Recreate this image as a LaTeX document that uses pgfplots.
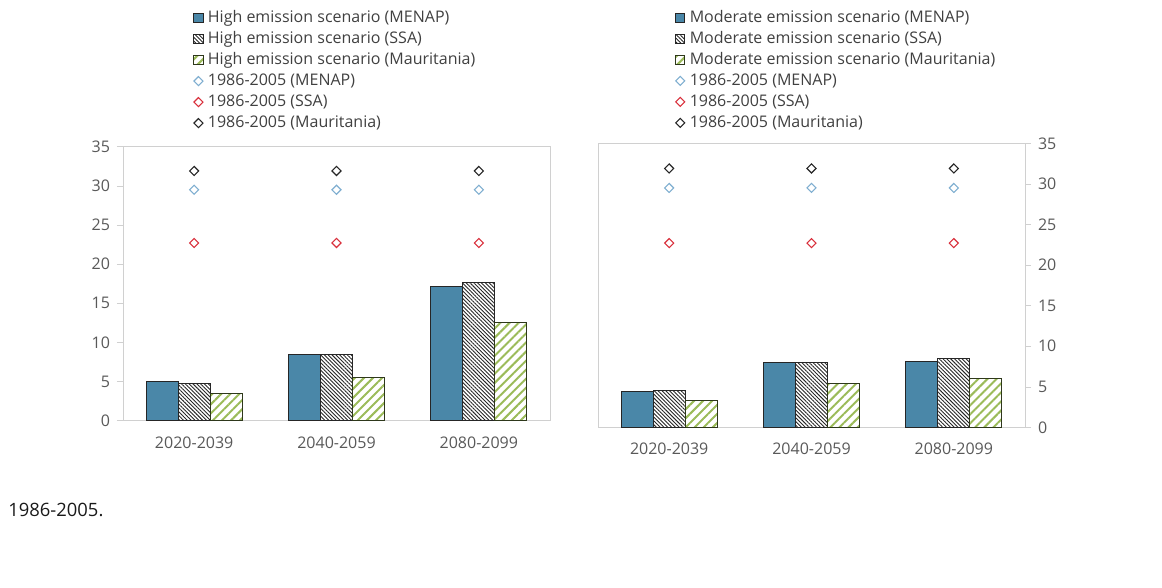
\documentclass[border=0pt]{standalone}
\usepackage{fontspec}
\setmainfont{Open Sans}
\usepackage{pgfplots}
\pgfplotsset{compat=1.18}
\usepackage{pgfplotstable}
\usetikzlibrary{patterns.meta}

\definecolor{menap}{HTML}{4A87A8}
\definecolor{menapmark}{HTML}{7FAED0}
\definecolor{ssamark}{HTML}{D9303C}
\definecolor{maur}{HTML}{9BBB59}
\definecolor{axisgray}{HTML}{D0D0D0}
\definecolor{ticktext}{HTML}{595959}
\definecolor{legtext}{HTML}{404040}

% Projected values by period (0 = 2020-2039, 1 = 2040-2059, 2 = 2080-2099)
\pgfplotstableread{
x   menap  ssa   maur
0   4.98   4.73  3.49
1   8.50   8.43  5.57
2   17.20  17.70 12.55
}\highdata
\pgfplotstableread{
x   menap  ssa   maur
0   4.35   4.50  3.35
1   7.95   7.95  5.40
2   8.10   8.50  6.05
}\moddata
% Reference period 1986-2005
\pgfplotstableread{
x   menap  ssa   maur
0   29.5   22.7  31.9
1   29.5   22.7  31.9
2   29.5   22.7  31.9
}\basedata

\pgfplotsset{
  panel/.style={
    scale only axis,
    width=213.5pt,
    xmin=-0.5, xmax=2.5, ymin=0, ymax=35,
    xtick={0,1,2},
    xticklabels={2020-2039,2040-2059,2080-2099},
    ytick={0,5,...,35},
    axis line style={axisgray},
    tick style={axisgray},
    tick align=outside,
    major tick length=3pt,
    xtick style={draw=none},
    ticklabel style={font=\fontsize{8}{9.6}\selectfont, text=ticktext},
    xticklabel style={yshift=-1.5pt},
    /pgf/number format/assume math mode=true,
    legend cell align=left,
    legend style={draw=none, fill=none, anchor=north west,
      font=\fontsize{8}{9.6}\selectfont, text=legtext,
      row sep=1.7pt, inner sep=0pt,
      nodes={inner sep=0.6pt, text height=6pt, text depth=1.6pt}},
  },
  barbox/.style={legend image code/.code={
      \draw[##1, line width=0.4pt] (0pt,-2.3pt) rectangle (4.6pt,2.3pt);
      \path (6.2pt,0pt);}},
  markleg/.style={legend image code/.code={
      \draw[##1] plot coordinates {(2.3pt,0pt)};
      \path (0pt,0pt) (6.2pt,0pt);}},
  bA/.style={ybar, bar width=16pt, bar shift=-16pt, fill=menap, draw=black!85, line width=0.5pt, barbox},
  bB/.style={ybar, bar width=16pt, bar shift=0pt, draw=black!85, line width=0.5pt,
    pattern={Lines[angle=-45, distance=1.35pt, line width=0.45pt]}, pattern color=black!85, barbox},
  bC/.style={ybar, bar width=16pt, bar shift=16pt, draw=black!70!maur, line width=0.5pt,
    pattern={Lines[angle=45, distance=3.2pt, line width=1pt]}, pattern color=maur, barbox},
  mk/.style={only marks, mark=square, mark size=1.6pt,
    mark options={rotate=45, draw=#1, fill=white, line width=0.55pt}, markleg},
}

\begin{document}
\begin{tikzpicture}
\path[use as bounding box] (0pt,0pt) rectangle (581pt,294pt);

% High emission scenario
\begin{axis}[panel, height=137pt, at={(61.5pt,83.65pt)}, anchor=south west,
  ytick pos=left,
  legend style={at={(axis description cs:0.164,1.503)}}]
  \addplot[bA] table[x=x, y=menap] {\highdata};
  \addplot[bB] table[x=x, y=ssa] {\highdata};
  \addplot[bC] table[x=x, y=maur] {\highdata};
  \addplot[mk=menapmark] table[x=x, y=menap] {\basedata};
  \addplot[mk=ssamark] table[x=x, y=ssa] {\basedata};
  \addplot[mk=black!85] table[x=x, y=maur] {\basedata};
  \legend{High emission scenario (MENAP), High emission scenario (SSA),
    High emission scenario (Mauritania), 1986-2005 (MENAP), 1986-2005 (SSA),
    1986-2005 (Mauritania)}
\end{axis}

% Moderate emission scenario
\begin{axis}[panel, height=142pt, at={(299pt,80.35pt)}, anchor=south west,
  ytick pos=right, yticklabel pos=right,
  legend style={at={(axis description cs:0.18,1.474)}}]
  \addplot[bA] table[x=x, y=menap] {\moddata};
  \addplot[bB] table[x=x, y=ssa] {\moddata};
  \addplot[bC] table[x=x, y=maur] {\moddata};
  \addplot[mk=menapmark] table[x=x, y=menap] {\basedata};
  \addplot[mk=ssamark] table[x=x, y=ssa] {\basedata};
  \addplot[mk=black!85] table[x=x, y=maur] {\basedata};
  \legend{Moderate emission scenario (MENAP), Moderate emission scenario (SSA),
    Moderate emission scenario (Mauritania), 1986-2005 (MENAP), 1986-2005 (SSA),
    1986-2005 (Mauritania)}
\end{axis}

\node[anchor=west, inner sep=0pt, font=\fontsize{9.2}{11}\selectfont, text=black!90] at (4pt,39pt) {1986-2005.};
\end{tikzpicture}
\end{document}
